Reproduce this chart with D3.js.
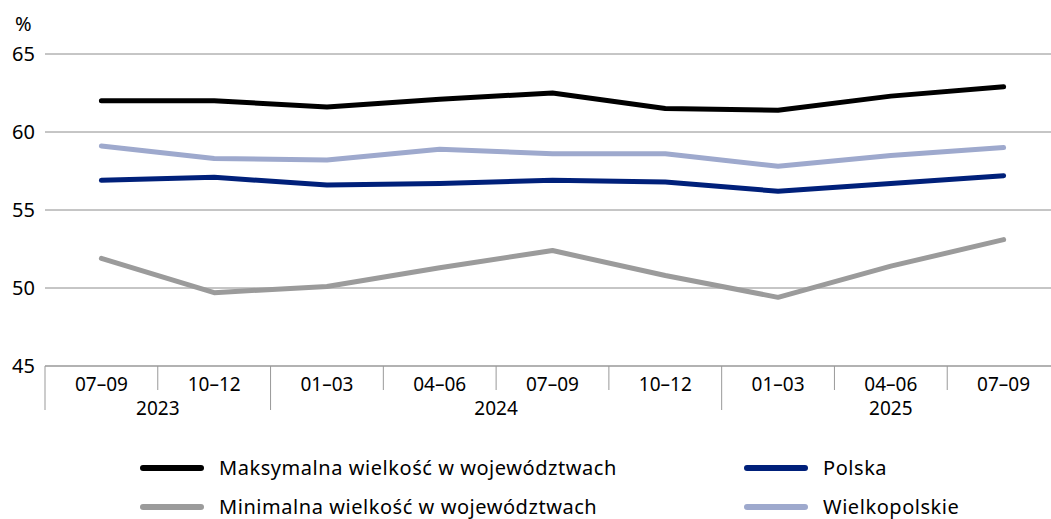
<!DOCTYPE html>
<html><head><meta charset="utf-8">
<script src="https://cdn.jsdelivr.net/npm/d3@7"></script>
<style>body{margin:0;background:#fff;} svg{display:block;font-family:"Noto Sans",sans-serif;}</style>
</head><body>
<svg id="c" width="1051" height="519"></svg>
<script>
const quarters = ["07–09","10–12","01–03","04–06","07–09","10–12","01–03","04–06","07–09"];
const years = [{label:"2023", from:0, to:2},{label:"2024", from:2, to:6},{label:"2025", from:6, to:9}];
const yTicks = [45,50,55,60,65];
const maxVals = [62.0,62.0,61.6,62.1,62.5,61.5,61.4,62.3,62.9];
const minVals = [51.9,49.7,50.1,51.3,52.4,50.8,49.4,51.4,53.1];
const polska = [56.9,57.1,56.6,56.7,56.9,56.8,56.2,56.7,57.2];
const wlkp = [59.1,58.3,58.2,58.9,58.6,58.6,57.8,58.5,59.0];
const series = [
  {name:"Maksymalna wielkość w województwach", values:maxVals, color:"#000000"},
  {name:"Minimalna wielkość w województwach", values:minVals, color:"#9b9b9b"},
  {name:"Polska", values:polska, color:"#00207a"},
  {name:"Wielkopolskie", values:wlkp, color:"#9ea9cd"}
];
const drawOrder = [1,3,2,0];

const svg = d3.select("#c");
const x = d3.scaleBand().domain(d3.range(quarters.length)).range([45,1060]);
const y = d3.scaleLinear().domain([45,65]).range([366,54]);

// gridlines
svg.append("g").selectAll("line").data(yTicks.filter(t=>t>45)).join("line")
  .attr("x1",45).attr("x2",1051).attr("y1",d=>y(d)).attr("y2",d=>y(d))
  .attr("stroke","#8c8c8c").attr("stroke-width",1);
// y labels
svg.append("g").selectAll("text").data(yTicks).join("text")
  .attr("x",35).attr("y",d=>y(d)+7).attr("text-anchor","end")
  .attr("font-size",20).attr("fill","#000").text(d=>d);
svg.append("text").attr("x",15).attr("y",31).attr("font-size",20).text("%");

// x axis
svg.append("line").attr("x1",45).attr("x2",1051).attr("y1",y(45)).attr("y2",y(45))
  .attr("stroke","#999").attr("stroke-width",1.5);
const yearStarts = new Set(years.map(d=>d.from));
const g = svg.append("g");
g.selectAll("line").data(d3.range(quarters.length)).join("line")
  .attr("x1",d=>x(d)).attr("x2",d=>x(d)).attr("y1",y(45))
  .attr("y2",d=>yearStarts.has(d)?410:390)
  .attr("stroke","#999").attr("stroke-width",1);
g.selectAll("text").data(quarters).join("text")
  .attr("x",(d,i)=>x(i)+x.bandwidth()/2).attr("y",391).attr("text-anchor","middle")
  .attr("font-size",19).text(d=>d);
svg.append("g").selectAll("text").data(years).join("text")
  .attr("x",d=>(x(d.from)+(d.to<quarters.length?x(d.to):x.range()[1]))/2).attr("y",415)
  .attr("text-anchor","middle").attr("font-size",19).text(d=>d.label);

// lines
const line = d3.line().x((d,i)=>x(i)+x.bandwidth()/2).y(d=>y(d));
svg.append("g").selectAll("path").data(drawOrder.map(i=>series[i])).join("path")
  .attr("d",d=>line(d.values)).attr("fill","none").attr("stroke",d=>d.color)
  .attr("stroke-width",5).attr("stroke-linecap","round").attr("stroke-linejoin","round");

// legend
const legPos = [[143,468],[143,507],[747,468],[747,507]];
const leg = svg.append("g").selectAll("g").data(series).join("g")
  .attr("transform",(d,i)=>`translate(${legPos[i][0]},${legPos[i][1]})`);
leg.append("line").attr("x1",0).attr("x2",58).attr("stroke",d=>d.color)
  .attr("stroke-width",6).attr("stroke-linecap","round");
leg.append("text").attr("x",76).attr("y",7).attr("font-size",20)
  .attr("letter-spacing",0.55).text(d=>d.name);
</script>
</body></html>
